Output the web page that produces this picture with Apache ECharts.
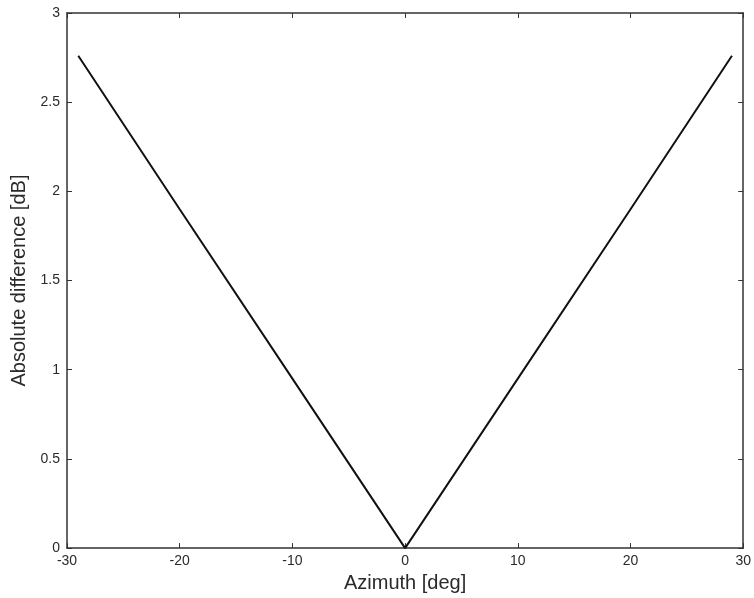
<!DOCTYPE html>
<html>
<head>
<meta charset="utf-8">
<script src="https://cdn.jsdelivr.net/npm/echarts@6/dist/echarts.min.js"></script>
<style>
  html, body { margin: 0; padding: 0; background: #fff; }
  #main { width: 754px; height: 598px; }
</style>
</head>
<body>
<div id="main"></div>
<script>
// azimuth in degrees, absolute difference in dB
var azimuth = [-29, -20, -10, 0, 10, 20, 29];
var absDiff = [2.76, 1.90, 0.95, 0, 0.95, 1.90, 2.76];
var xTicks = [-30, -20, -10, 0, 10, 20, 30];
var yTicks = [0, 0.5, 1, 1.5, 2, 2.5, 3];

var chart = echarts.init(document.getElementById('main'));

var fontFam = 'Liberation Sans, Arial, sans-serif';
var axisCol = '#333';
var textCol = '#2a2a2a';

var option = {
  animation: false,
  grid: { left: 67, right: 5, top: 13, bottom: 49 },
  xAxis: [{
    type: 'value',
    min: xTicks[0],
    max: xTicks[xTicks.length - 1],
    interval: 10,
    name: 'Azimuth [deg]',
    nameLocation: 'middle',
    nameGap: 24,
    nameTextStyle: { fontSize: 20, color: textCol, fontFamily: fontFam },
    axisLine: { onZero: false, lineStyle: { color: axisCol, width: 1.5 } },
    axisTick: { inside: true, length: 5, lineStyle: { color: axisCol } },
    axisLabel: { fontSize: 14, color: textCol, margin: 6, fontFamily: fontFam },
    splitLine: { show: false }
  }, {
    type: 'value',
    position: 'top',
    min: xTicks[0],
    max: xTicks[xTicks.length - 1],
    interval: 10,
    axisLine: { onZero: false, lineStyle: { color: axisCol, width: 1.5 } },
    axisTick: { inside: true, length: 5, lineStyle: { color: axisCol } },
    axisLabel: { show: false },
    splitLine: { show: false }
  }],
  yAxis: [{
    type: 'value',
    min: yTicks[0],
    max: yTicks[yTicks.length - 1],
    interval: 0.5,
    name: 'Absolute difference [dB]',
    nameLocation: 'middle',
    nameGap: 36,
    nameTextStyle: { fontSize: 20, color: textCol, fontFamily: fontFam },
    axisLine: { show: true, onZero: false, lineStyle: { color: axisCol, width: 1.5 } },
    axisTick: { show: true, inside: true, length: 5, lineStyle: { color: axisCol } },
    axisLabel: { fontSize: 14, color: textCol, margin: 7, fontFamily: fontFam },
    splitLine: { show: false }
  }, {
    type: 'value',
    position: 'right',
    min: yTicks[0],
    max: yTicks[yTicks.length - 1],
    interval: 0.5,
    axisLine: { show: true, onZero: false, lineStyle: { color: axisCol, width: 1.5 } },
    axisTick: { show: true, inside: true, length: 5, lineStyle: { color: axisCol } },
    axisLabel: { show: false },
    splitLine: { show: false }
  }],
  series: [{
    type: 'line',
    data: azimuth.map(function (a, i) { return [a, absDiff[i]]; }),
    showSymbol: false,
    lineStyle: { color: '#111', width: 2 }
  }]
};

chart.setOption(option);
</script>
</body>
</html>
